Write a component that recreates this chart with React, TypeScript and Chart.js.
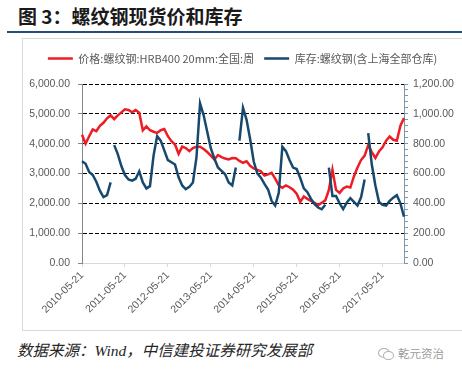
import React, { useEffect, useRef } from "react";
import { Chart, registerables } from "chart.js";

Chart.register(...registerables);

// ---- data ----
const START_YEAR = 2010;
const START_MONTH = 5; // May
const MONTH_COUNT = 91;
const DATES: string[] = [];
for (let i = 0; i < MONTH_COUNT; i++) {
  const m = START_MONTH - 1 + i;
  const y = START_YEAR + Math.floor(m / 12);
  const mm = (m % 12) + 1;
  DATES.push(`${y}-${String(mm).padStart(2, "0")}-21`);
}

const PRICE_LABEL = "价格:螺纹钢:HRB400 20mm:全国:周";
const INVENTORY_LABEL = "库存:螺纹钢(含上海全部仓库)";

// 元/吨 (left axis)
const PRICE = [
  4300, 4000, 4250, 4480, 4420, 4600, 4700, 4850, 4950, 4820,
  4950, 5050, 5150, 5130, 5050, 5130, 5040, 4450, 4580, 4450,
  4400, 4360, 4450, 4490, 4250, 4080, 3970, 3660, 3900, 3850,
  3750, 3850, 3900, 3900, 3820, 3720, 3600, 3470, 3620, 3550,
  3500, 3470, 3520, 3510, 3420, 3360, 3410, 3260, 3170, 3120,
  3070, 2930, 2970, 3020, 2830, 2600, 2520, 2600, 2540, 2460,
  2320, 2050, 2230, 2150, 2080, 2020, 1940, 2020, 2100, 2450,
  3130, 2450, 2350, 2500, 2560, 2530, 2900, 3200, 3450, 3600,
  3950, 3720, 3520, 3740, 3880, 4100, 4240, 4130, 4100, 4600,
  4860,
];

// 万吨 (right axis)
const INVENTORY = [
  682, 665, 610, 590, 545, 485, 442, 455, 540, 790,
  730, 650, 590, 560, 552, 565, 615, 540, 500, 515,
  720, 850, 820, 755, 690, 675, 660, 575, 520, 495,
  510, 540, 710, 1070, 990, 880, 770, 700, 640, 618,
  595, 540, 520, 640, 820, 1040, 960, 830, 680, 600,
  572, 530, 493, 416, 385, 470, 780, 750, 690, 640,
  630, 570, 500, 475, 430, 395, 372, 360, 390, 640,
  450, 450, 400, 362, 405, 435, 410, 385, 440, 560,
  870, 660, 520, 410, 390, 385, 416, 438, 455, 400,
  310,
];
// the inventory line is broken just before these points
const INVENTORY_BREAKS = [9, 44, 69, 80];

const LEFT_MAX = 6000;
const LEFT_STEP = 1000;
const RIGHT_MAX = 1200;
const RIGHT_MINOR = 40;
const RIGHT_MAJOR = 200;

const RED = "#ee1c25";
const BLUE = "#17496e";
const TEXT = "#595959";
const AXIS_GRAY = "#868686";
const AXIS_LIGHT = "#d9d9d9";
const RIGHT_AXIS = "#7f96ab";

const fmt = (v: number) =>
  Number(v).toLocaleString("en-US", { minimumFractionDigits: 2, maximumFractionDigits: 2 });

const TICK_FONT = { family: "'Liberation Sans', Arial, sans-serif", size: 10.5 };

export default function App() {
  const ref = useRef<HTMLCanvasElement>(null);

  useEffect(() => {
    const legendSpacer = {
      id: "legendSpacer",
      beforeInit(chart: any) {
        const legend = chart.legend;
        if (!legend) return;
        const origFit = legend.fit;
        legend.fit = function () {
          origFit.call(this);
          this.height += 10;
        };
      },
    };

    const chart = new Chart(ref.current!, {
      type: "line",
      data: {
        labels: DATES,
        datasets: [
          {
            label: PRICE_LABEL,
            data: PRICE,
            borderColor: RED,
            backgroundColor: RED,
            borderWidth: 2.5,
            pointRadius: 0,
            tension: 0,
            yAxisID: "y",
            order: 1,
          },
          {
            label: INVENTORY_LABEL,
            data: INVENTORY,
            borderColor: BLUE,
            backgroundColor: BLUE,
            borderWidth: 2.5,
            pointRadius: 0,
            tension: 0,
            yAxisID: "y1",
            order: 0,
            segment: {
              borderColor: (ctx: any) =>
                INVENTORY_BREAKS.includes(ctx.p1DataIndex) ? "rgba(0,0,0,0)" : BLUE,
            },
          },
        ],
      },
      options: {
        animation: false,
        responsive: false,
        events: [],
        layout: { padding: { top: 4, left: 0, right: 0, bottom: 0 } },
        plugins: {
          tooltip: { enabled: false },
          legend: {
            position: "top",
            labels: {
              usePointStyle: true,
              pointStyle: "line",
              pointStyleWidth: 25,
              padding: 10,
              color: TEXT,
              font: { family: "'Noto Sans CJK SC', sans-serif", size: 11 },
              sort: (a: any, b: any) => a.datasetIndex - b.datasetIndex,
            },
          },
        },
        scales: {
          x: {
            type: "category",
            offset: false,
            grid: {
              drawOnChartArea: false,
              drawTicks: true,
              tickLength: 4,
              tickColor: (ctx: any) => (ctx.index % 12 === 0 ? AXIS_LIGHT : "rgba(0,0,0,0)"),
            },
            border: { color: AXIS_LIGHT, width: 1 },
            ticks: {
              autoSkip: false,
              minRotation: 45,
              maxRotation: 45,
              padding: 2,
              color: TEXT,
              font: TICK_FONT,
              callback: (_v: any, i: number) => (i % 12 === 0 ? DATES[i] : ""),
            },
            afterFit: (s: any) => {
              s.height = 67;
            },
          },
          y: {
            position: "left",
            min: 0,
            max: LEFT_MAX,
            grid: {
              color: (ctx: any) => (ctx.tick && ctx.tick.value === 0 ? "rgba(0,0,0,0)" : "#000"),
              lineWidth: 1,
              tickLength: 4,
              tickColor: AXIS_GRAY,
              tickBorderDash: [],
            },
            border: { color: AXIS_GRAY, width: 1, dash: [4, 2] },
            ticks: {
              stepSize: LEFT_STEP,
              padding: 8,
              color: TEXT,
              font: TICK_FONT,
              callback: (v: any) => fmt(v),
            },
            afterFit: (s: any) => {
              s.width = 59;
            },
          },
          y1: {
            position: "right",
            min: 0,
            max: RIGHT_MAX,
            grid: {
              drawOnChartArea: false,
              drawTicks: true,
              tickLength: 4,
              tickColor: RIGHT_AXIS,
            },
            border: { color: RIGHT_AXIS, width: 1 },
            ticks: {
              stepSize: RIGHT_MINOR,
              autoSkip: false,
              padding: 5,
              color: TEXT,
              font: TICK_FONT,
              callback: (v: any) => (Number(v) % RIGHT_MAJOR === 0 ? fmt(v) : ""),
            },
            afterFit: (s: any) => {
              s.width = 58;
            },
          },
        },
      },
      plugins: [legendSpacer],
    } as any);

    return () => chart.destroy();
  }, []);

  return (
    <div
      style={{
        position: "fixed",
        left: 0,
        top: 0,
        width: 462,
        height: 378,
        background: "#fff",
        overflow: "hidden",
      }}
    >
      <div
        style={{
          position: "absolute",
          left: 18,
          top: 3,
          fontFamily: "'Noto Sans CJK SC', sans-serif",
          fontWeight: 700,
          fontSize: 19,
          lineHeight: "26px",
          color: "#1a1a1a",
          whiteSpace: "nowrap",
        }}
      >
        图 3：螺纹钢现货价和库存
      </div>
      <div
        style={{
          position: "absolute",
          left: 7,
          top: 31,
          width: 455,
          height: 2,
          background: "#245077",
        }}
      />
      <div
        style={{
          position: "absolute",
          left: 22,
          top: 38,
          width: 440,
          height: 293,
          borderLeft: `1px solid ${AXIS_LIGHT}`,
          borderTop: `1px solid ${AXIS_LIGHT}`,
          borderBottom: `1px solid ${AXIS_LIGHT}`,
          boxSizing: "border-box",
        }}
      >
        <canvas ref={ref} width={439} height={291} style={{ display: "block" }} />
      </div>
      <div
        style={{
          position: "absolute",
          left: 17,
          top: 340,
          fontFamily: "'Liberation Serif', 'Noto Sans CJK SC', serif",
          fontStyle: "italic",
          fontSize: 15.5,
          lineHeight: "22px",
          color: "#262626",
          whiteSpace: "nowrap",
        }}
      >
        数据来源：Wind，中信建投证券研究发展部
      </div>
      <div
        style={{
          position: "absolute",
          left: 378,
          top: 345,
          display: "flex",
          alignItems: "center",
          gap: 4,
          fontFamily: "'Noto Sans CJK SC', sans-serif",
          fontSize: 11.5,
          color: "#9a9a9a",
          whiteSpace: "nowrap",
        }}
      >
        <span style={{ position: "relative", width: 16, height: 13, display: "inline-block" }}>
          <span
            style={{
              position: "absolute",
              left: 0,
              top: 1,
              width: 10,
              height: 8,
              border: "1px solid #b0b0b0",
              borderRadius: "50%",
            }}
          />
          <span
            style={{
              position: "absolute",
              left: 5,
              top: 4,
              width: 9,
              height: 7,
              border: "1px solid #b0b0b0",
              borderRadius: "50%",
              background: "#fff",
            }}
          />
        </span>
        <span>乾元资治</span>
      </div>
    </div>
  );
}
